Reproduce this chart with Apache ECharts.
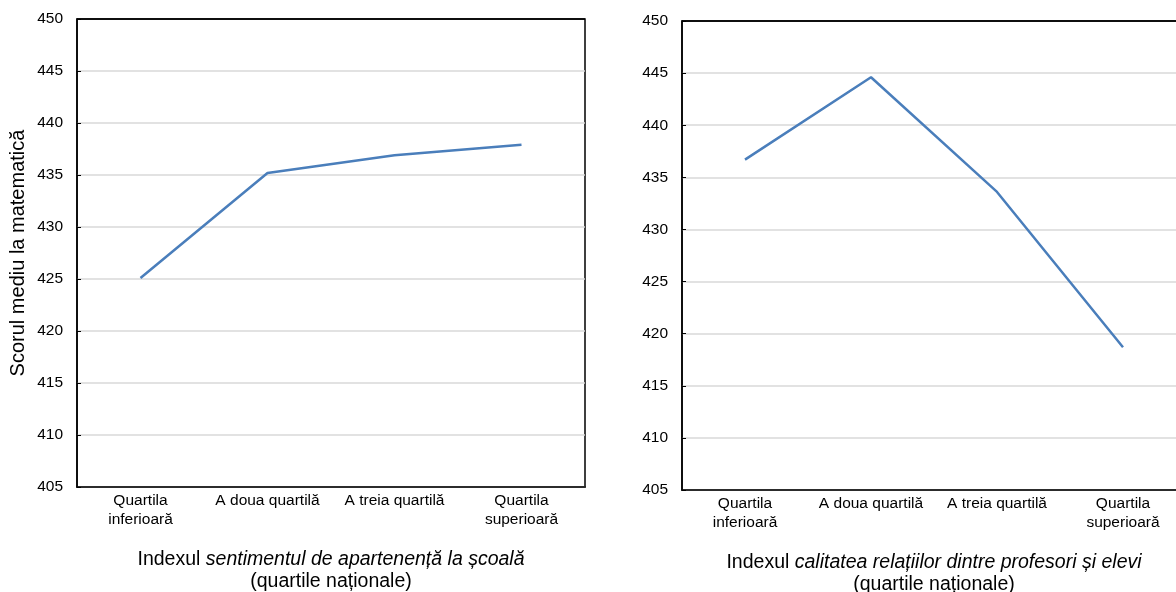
<!DOCTYPE html>
<html>
<head>
<meta charset="utf-8">
<script src="https://cdn.jsdelivr.net/npm/echarts@6/dist/echarts.min.js"></script>
<style>
html,body{margin:0;padding:0;background:#fff;overflow:hidden;width:1176px;height:592px;}
#c{width:1200px;height:592px;}
</style>
</head>
<body>
<div id="c"></div>
<script>
const categories = ['Quartila\ninferioară', 'A doua quartilă', 'A treia quartilă', 'Quartila\nsuperioară'];
const belongingScores = [425.1, 435.2, 436.9, 437.9];
const relationsScores = [436.7, 444.6, 433.6, 418.7];
const yMin = 405, yMax = 450, yStep = 5;
const yAxisTitle = 'Scorul mediu la matematică';
const leftXTitle = ['Indexul ', 'sentimentul de apartenență la școală', '(quartile naționale)'];
const rightXTitle = ['Indexul ', 'calitatea relațiilor dintre profesori și elevi', '(quartile naționale)'];

const FONT = 'Liberation Sans, Arial, sans-serif';
const chart = echarts.init(document.getElementById('c'), null, {renderer: 'canvas'});

const nLines = Math.round((yMax - yMin) / yStep) + 1;
const splitColors = [];
for (let k = 0; k < nLines; k++) splitColors.push(k === nLines - 1 ? '#000' : '#d9d9d9');

function xAxisFor(gridIndex, title, gap) {
  return {
    type: 'category', gridIndex: gridIndex, data: categories, boundaryGap: true,
    axisLine: {show: true, lineStyle: {color: '#000', width: 1.5}},
    axisTick: {show: false},
    axisLabel: {color: '#000', fontSize: 15.5, fontFamily: FONT, margin: 4, lineHeight: 19, interval: 0},
    name: '{n|' + title[0] + '}{i|' + title[1] + '}\n{n|' + title[2] + '}',
    nameLocation: 'middle', nameGap: gap,
    nameTextStyle: {
      color: '#000', fontSize: 19.5, fontFamily: FONT, lineHeight: 22, align: 'center',
      rich: {
        n: {fontSize: 19.5, fontFamily: FONT, color: '#000', lineHeight: 22},
        i: {fontSize: 19.5, fontFamily: FONT, color: '#000', fontStyle: 'italic', lineHeight: 22}
      }
    }
  };
}
function yAxisFor(gridIndex, withName) {
  const a = {
    type: 'value', gridIndex: gridIndex, min: yMin, max: yMax, interval: yStep,
    axisLine: {show: true, lineStyle: {color: '#000', width: 1.5}},
    axisTick: {show: true, inside: true, length: 4, lineStyle: {color: '#000', width: 1}},
    axisLabel: {color: '#000', fontSize: 15.5, fontFamily: FONT, margin: 14},
    splitLine: {show: true, lineStyle: {color: splitColors, width: 1.5}}
  };
  if (withName) {
    a.name = yAxisTitle;
    a.nameLocation = 'middle';
    a.nameGap = 49;
    a.nameTextStyle = {color: '#000', fontSize: 20, fontFamily: FONT};
  }
  return a;
}
function lineSeries(i, data) {
  return {
    type: 'line', xAxisIndex: i, yAxisIndex: i, data: data,
    symbol: 'none', smooth: false,
    lineStyle: {color: '#4a7ebb', width: 2.5},
    itemStyle: {color: '#4a7ebb'}
  };
}

chart.setOption({
  animation: false,
  backgroundColor: '#fff',
  grid: [
    {left: 77, top: 19, width: 508, height: 468, show: true, borderColor: '#000', borderWidth: 1.5,
     containLabel: false, outerBoundsMode: 'none'},
    {left: 682, top: 21, width: 504, height: 469, show: true, borderColor: '#000', borderWidth: 1.5,
     containLabel: false, outerBoundsMode: 'none'}
  ],
  xAxis: [xAxisFor(0, leftXTitle, 62), xAxisFor(1, rightXTitle, 62)],
  yAxis: [yAxisFor(0, true), yAxisFor(1, false)],
  series: [lineSeries(0, belongingScores), lineSeries(1, relationsScores)]
});
</script>
</body>
</html>
